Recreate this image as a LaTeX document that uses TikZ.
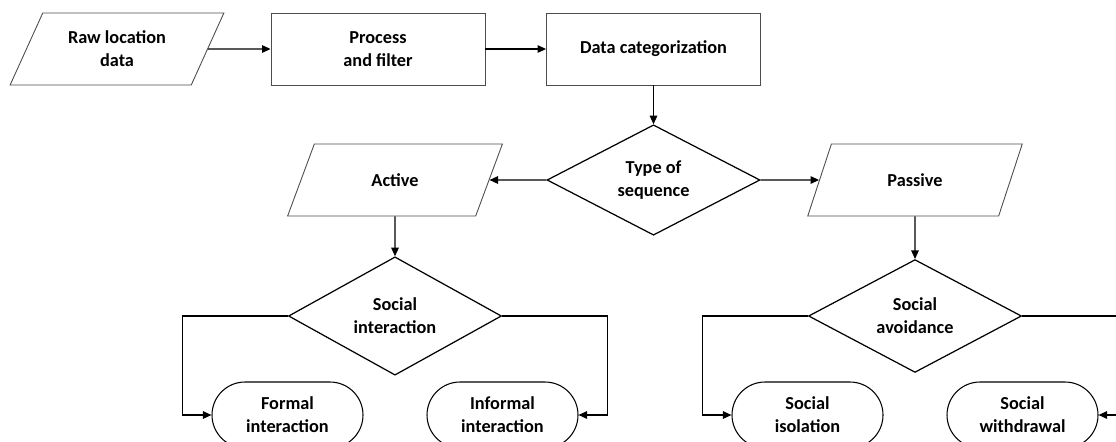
\documentclass[tikz,border=0pt]{standalone}
\usepackage{fontspec}
\setmainfont{Carlito}
\usetikzlibrary{shapes.geometric,arrows.meta}
\begin{document}
\begin{tikzpicture}[>={Triangle[length=1.7mm,width=1.5mm]},
    every node/.style={font=\fontsize{10.4}{13}\selectfont\bfseries, align=center},
    io/.style={trapezium, trapezium left angle=59, trapezium right angle=121, trapezium stretches=true,
        draw=black!70, line width=0.5pt, minimum width=4.3cm, minimum height=1.44cm, inner sep=0pt},
    proc/.style={rectangle, draw=black!70, line width=0.5pt, minimum width=4.28cm, minimum height=1.44cm},
    decision/.style={diamond, draw, line width=0.7pt, minimum width=4.26cm, minimum height=2.08cm, inner sep=0pt},
    terminal/.style={rectangle, rounded corners=0.66cm, draw, line width=0.6pt, minimum width=3.02cm, minimum height=1.32cm},
    arr/.style={->, line width=0.7pt}]
    \useasboundingbox (0,0) rectangle (22.32,-8.82);
    \clip (0,0) rectangle (22.32,-8.82);
    % top row
    \node[io]   (raw)     at (2.34,-0.98)  {Raw location\\data};
    \node[proc] (process) at (7.56,-0.98)  {Process\\and filter};
    \node[proc] (categ)   at (13.07,-0.98) {Data categorization};
    % sequence type
    \node[decision] (seqtype) at (13.07,-3.60) {Type of\\sequence};
    \node[io] (active)  at (7.90,-3.60)  {Active};
    \node[io] (passive) at (18.30,-3.60) {Passive};
    % second level decisions
    \node[decision] (interact) at (7.90,-6.32)  {Social\\interaction};
    \node[decision] (avoid)    at (18.30,-6.32) {Social\\avoidance};
    % outcomes
    \node[terminal] (formal)     at (5.75,-8.30)  {Formal\\interaction};
    \node[terminal] (informal)   at (10.05,-8.30) {Informal\\interaction};
    \node[terminal] (isolation)  at (16.15,-8.30) {Social\\isolation};
    \node[terminal] (withdrawal) at (20.45,-8.30) {Social\\withdrawal};

    \draw[arr] (raw.east) -- (process.west);
    \draw[arr] (process.east) -- (categ.west);
    \draw[arr] (categ.south) -- (seqtype.north);
    \draw[arr] (seqtype.west) -- (active.east);
    \draw[arr] (seqtype.east) -- (passive.west);
    \draw[arr] (active.south) -- (interact.north);
    \draw[arr] (passive.south) -- (avoid.north);
    \draw[arr] (interact.west) -| ([xshift=-5.8mm]formal.west) -- (formal.west);
    \draw[arr] (interact.east) -| ([xshift=5.8mm]informal.east) -- (informal.east);
    \draw[arr] (avoid.west) -| ([xshift=-5.8mm]isolation.west) -- (isolation.west);
    \draw[arr] (avoid.east) -| ([xshift=5.8mm]withdrawal.east) -- (withdrawal.east);
\end{tikzpicture}
\end{document}
